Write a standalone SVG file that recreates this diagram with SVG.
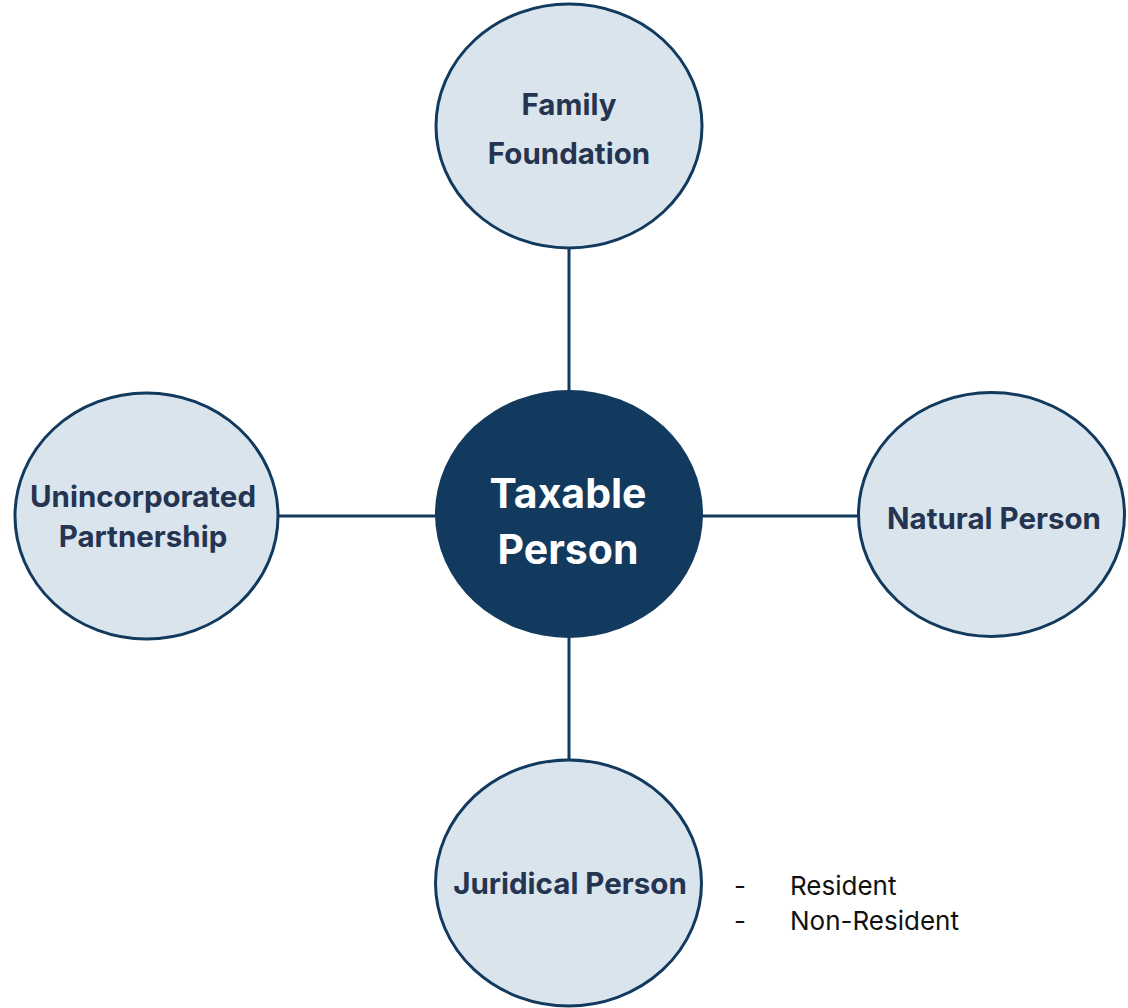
<svg xmlns="http://www.w3.org/2000/svg" width="1128" height="1008" viewBox="0 0 1128 1008">
  <style>
    .sat { fill: #d9e4ed; stroke: #113a5e; stroke-width: 3; }
    .hub { fill: #113a5e; }
    .lbl { font-family: Inter, "Liberation Sans", sans-serif; font-weight: 700; font-size: 29.5px; fill: #253450; text-anchor: middle; }
    .hubl { font-family: Inter, "Liberation Sans", sans-serif; font-weight: 700; font-size: 41px; fill: #ffffff; text-anchor: middle; }
    .note { font-family: Inter, "Liberation Sans", sans-serif; font-size: 26px; fill: #111111; }
    .conn { stroke: #113a5e; stroke-width: 3; fill: none; }
  </style>
  <rect width="1128" height="1008" fill="#ffffff"/>
  <g id="connectors">
    <line class="conn" x1="569" y1="248" x2="569" y2="392"/>
    <line class="conn" x1="569" y1="636" x2="569" y2="760"/>
    <line class="conn" x1="278" y1="516" x2="437" y2="516"/>
    <line class="conn" x1="701" y1="516" x2="859" y2="516"/>
  </g>
  <g id="family-foundation">
    <ellipse class="sat" cx="569" cy="126" rx="133" ry="122"/>
    <text class="lbl" x="569" y="115">Family</text>
    <text class="lbl" x="569" y="164">Foundation</text>
  </g>
  <g id="unincorporated-partnership">
    <ellipse class="sat" cx="146.5" cy="516" rx="131.5" ry="123"/>
    <text class="lbl" x="143" y="507">Unincorporated</text>
    <text class="lbl" x="143" y="547">Partnership</text>
  </g>
  <g id="taxable-person">
    <ellipse class="hub" cx="569" cy="514" rx="134" ry="124"/>
    <text class="hubl" x="568" y="508">Taxable</text>
    <text class="hubl" x="568" y="564">Person</text>
  </g>
  <g id="natural-person">
    <ellipse class="sat" cx="991.5" cy="514.5" rx="133" ry="122"/>
    <text class="lbl" x="994" y="529">Natural Person</text>
  </g>
  <g id="juridical-person">
    <ellipse class="sat" cx="568.5" cy="883" rx="133" ry="123"/>
    <text class="lbl" x="570" y="894">Juridical Person</text>
    <text class="note" x="734" y="895">-</text>
    <text class="note" x="790" y="895">Resident</text>
    <text class="note" x="734" y="930">-</text>
    <text class="note" x="790" y="930">Non-Resident</text>
  </g>
</svg>
